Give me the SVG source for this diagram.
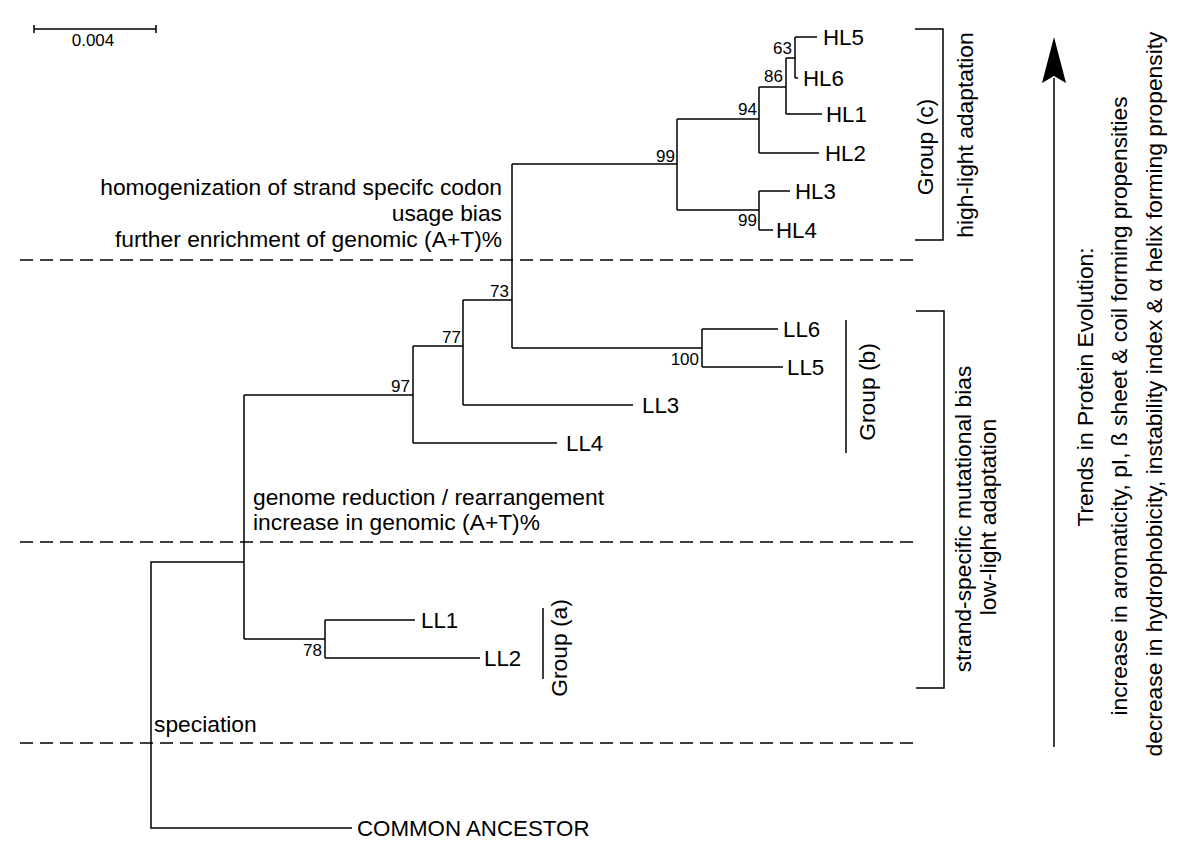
<svg xmlns="http://www.w3.org/2000/svg" width="1200" height="867" viewBox="0 0 1200 867">
<style>
text{font-family:"Liberation Sans",Arial,sans-serif;fill:#000}
.lab{font-size:22.3px}
.ann{font-size:22.8px}
.bs{font-size:17px;text-anchor:end}
.v{font-size:22.8px;text-anchor:middle}
.ln{fill:none;stroke:#000;stroke-width:1.5}
.dash{fill:none;stroke:#000;stroke-width:1.5;stroke-dasharray:13 7}
</style>
<rect width="1200" height="867" fill="#fff"/>
<g id="scale">
<path class="ln" d="M34,29 H156 M34,25 V33 M156,25 V33"/>
<text x="93" y="46" font-size="17" text-anchor="middle">0.004</text>
</g>
<g id="dividers">
<path class="dash" d="M20,260 H918 M20,542 H918 M20,743 H918"/>
</g>
<g id="connectors">
<path class="ln" d="M352,828 H151 V562 H244 M244,395 V639 M244,395 H413 M413,346 V443 M413,443 H557 M413,346 H463 M463,300 V405 M463,405 H633 M463,300 H512 M512,164 V348 M512,348 H702 M702,329 V367 M702,329 H778 M702,367 H783 M512,164 H677 M677,119 V210 M677,119 H759 M759,87 V153 M759,153 H819 M759,87 H786 M786,58 V114 M786,114 H822 M786,58 H795 M795,37 V78 M795,37 H817 M795,78 H798 M677,210 H759 M759,191 V230 M759,191 H790 M759,230 H773 M244,639 H325 M325,620 V658 M325,620 H415 M325,658 H480"/>
</g>
<g id="bootstrap">
<text class="bs" x="792" y="54">63</text>
<text class="bs" x="783" y="82">86</text>
<text class="bs" x="757" y="115">94</text>
<text class="bs" x="675" y="162">99</text>
<text class="bs" x="757" y="226">99</text>
<text class="bs" x="509" y="297">73</text>
<text class="bs" x="461" y="343">77</text>
<text class="bs" x="410" y="392">97</text>
<text class="bs" x="699" y="365">100</text>
<text class="bs" x="322" y="656">78</text>
</g>
<g id="HL5"><text class="lab" x="823" y="45">HL5</text></g>
<g id="HL6"><text class="lab" x="803" y="86">HL6</text></g>
<g id="HL1"><text class="lab" x="826" y="122">HL1</text></g>
<g id="HL2"><text class="lab" x="825" y="161">HL2</text></g>
<g id="HL3"><text class="lab" x="795" y="199">HL3</text></g>
<g id="HL4"><text class="lab" x="776" y="238">HL4</text></g>
<g id="LL6"><text class="lab" x="783" y="337">LL6</text></g>
<g id="LL5"><text class="lab" x="787" y="375">LL5</text></g>
<g id="LL3"><text class="lab" x="642" y="413">LL3</text></g>
<g id="LL4"><text class="lab" x="566" y="451">LL4</text></g>
<g id="LL1"><text class="lab" x="421" y="628">LL1</text></g>
<g id="LL2"><text class="lab" x="484" y="666">LL2</text></g>
<g id="ancestor"><text class="lab" x="357" y="836">COMMON ANCESTOR</text></g>
<g id="annot-hl">
<text class="ann" x="502" y="195" text-anchor="end">homogenization of strand specifc codon</text>
<text class="ann" x="502" y="221" text-anchor="end">usage bias</text>
<text class="ann" x="502" y="247" text-anchor="end">further enrichment of genomic (A+T)%</text>
</g>
<g id="annot-ll">
<text class="ann" x="253" y="505">genome reduction / rearrangement</text>
<text class="ann" x="253" y="530">increase in genomic (A+T)%</text>
</g>
<g id="annot-spec"><text class="ann" x="154" y="732">speciation</text></g>
<g id="group-a">
<path class="ln" d="M543,608 V679"/>
<text class="v" transform="translate(567,648) rotate(-90)">Group (a)</text>
</g>
<g id="group-b">
<path class="ln" d="M846,320 V453"/>
<text class="v" transform="translate(875,392) rotate(-90)">Group (b)</text>
</g>
<g id="group-c">
<path class="ln" d="M915,29 H943 V240 H915"/>
<text class="v" transform="translate(933,147) rotate(-90)">Group (c)</text>
<text class="v" transform="translate(973,135) rotate(-90)">high-light adaptation</text>
</g>
<g id="group-ll">
<path class="ln" d="M916,311 H944 V688 H916"/>
<text class="v" transform="translate(971,519) rotate(-90)">strand-specific mutational bias</text>
<text class="v" transform="translate(996,517) rotate(-90)">low-light adaptation</text>
</g>
<g id="trend">
<path class="ln" d="M1054,747 V78"/>
<path d="M1054,37 L1066,83 L1054,76 L1042,83 Z" fill="#000"/>
<text class="v" transform="translate(1093,387) rotate(-90)">Trends in Protein Evolution:</text>
<text class="v" transform="translate(1127,406) rotate(-90)">increase in aromaticity, pI, ß sheet &amp; coil forming propensities</text>
<text class="v" transform="translate(1162,394) rotate(-90)">decrease in hydrophobicity, instability index &amp; α helix forming propensity</text>
</g>
</svg>
